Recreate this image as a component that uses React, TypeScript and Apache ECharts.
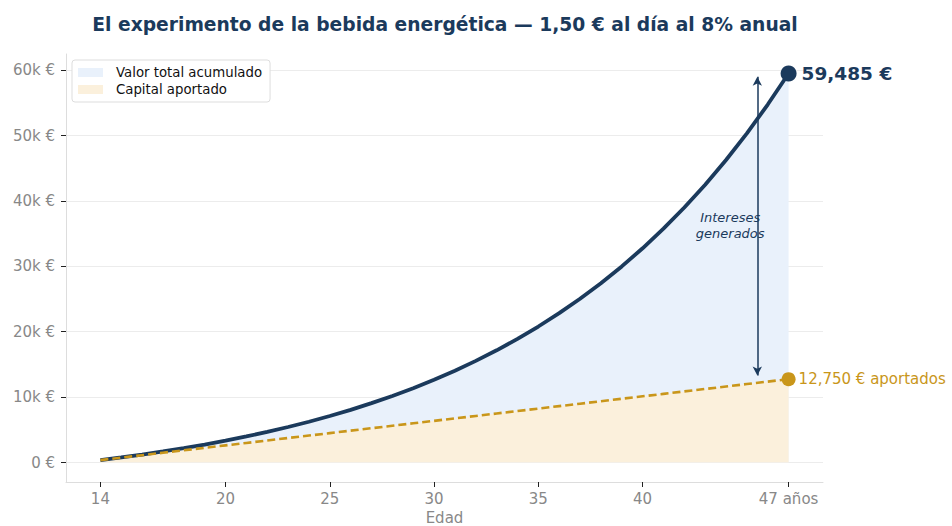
import React, { useEffect, useRef } from "react";
import * as echarts from "echarts";

const ages = [14, 15, 16, 17, 18, 19, 20, 21, 22, 23, 24, 25, 26, 27, 28, 29, 30, 31, 32, 33, 34, 35, 36, 37, 38, 39, 40, 41, 42, 43, 44, 45, 46, 47];
const totalValue = [375, 780, 1217, 1690, 2200, 2751, 3346, 3989, 4683, 5432, 6242, 7116, 8061, 9081, 10182, 11372, 12656, 14044, 15542, 17161, 18909, 20796, 22835, 25037, 27415, 29983, 32757, 35752, 38987, 42481, 46255, 50330, 54731, 59485];
const capital = [375, 750, 1125, 1500, 1875, 2250, 2625, 3000, 3375, 3750, 4125, 4500, 4875, 5250, 5625, 6000, 6375, 6750, 7125, 7500, 7875, 8250, 8625, 9000, 9375, 9750, 10125, 10500, 10875, 11250, 11625, 12000, 12375, 12750];
const xTicks = [14, 20, 25, 30, 35, 40, 47];
const yTicks = [0, 10000, 20000, 30000, 40000, 50000, 60000];

const NAVY = "#1b3a5c";
const GOLD = "#c9961a";
const BLUE_FILL = "#e9f1fb";
const GOLD_FILL = "#fbf0dc";
const FONT = "DejaVu Sans";

export default function App() {
  const ref = useRef<HTMLDivElement>(null);
  useEffect(() => {
    if (!ref.current) return;
    const chart = echarts.init(ref.current, null, { renderer: "svg" });
    const totalPts = ages.map((a, i) => [a, totalValue[i]]);
    const capPts = ages.map((a, i) => [a, capital[i]]);
    const n = ages.length - 1;
    const fmt = (v: number) => v.toLocaleString("en-US");
    chart.setOption({
      animation: false,
      textStyle: { fontFamily: FONT },
      title: {
        text: "El experimento de la bebida energética — 1,50 € al día al 8% anual",
        left: 440,
        top: 10,
        textAlign: "center",
        textStyle: { fontSize: 18.7, fontWeight: "bold", color: NAVY, fontFamily: FONT },
      },
      legend: {
        left: 72,
        top: 60,
        orient: "vertical",
        icon: "rect",
        itemWidth: 25,
        itemHeight: 9,
        itemGap: 4,
        padding: [6, 8, 6, 6],
        backgroundColor: "#ffffff",
        borderColor: "#dddddd",
        borderWidth: 1,
        borderRadius: 3,
        textStyle: { fontSize: 13.3, color: "#111", fontFamily: FONT, padding: [0, 0, 0, 8] },
        data: [
          { name: "Valor total acumulado", itemStyle: { color: BLUE_FILL }, lineStyle: { width: 0 } },
          { name: "Capital aportado", itemStyle: { color: GOLD_FILL }, lineStyle: { width: 0 } },
        ],
      },
      grid: { left: 66, right: 129, top: 54, bottom: 44, containLabel: false, outerBoundsMode: "none" },
      xAxis: {
        type: "value",
        min: 12.35,
        max: 48.65,
        name: "Edad",
        nameLocation: "middle",
        nameGap: 28,
        nameTextStyle: { color: "#888", fontSize: 15, fontFamily: FONT },
        axisLine: { onZero: false, lineStyle: { color: "#dddddd", width: 1 } },
        axisTick: { show: true, customValues: xTicks, length: 5, lineStyle: { color: "#222" } },
        axisLabel: {
          customValues: xTicks,
          color: "#888",
          fontSize: 15,
          fontFamily: FONT,
          margin: 9,
          formatter: (v: number) => (v === 47 ? "47 años" : String(v)),
        },
        splitLine: { show: false },
      },
      yAxis: {
        type: "value",
        min: -2974,
        max: 62460,
        axisLine: { show: true, onZero: false, lineStyle: { color: "#dddddd", width: 1 } },
        axisTick: { show: true, customValues: yTicks, length: 5, lineStyle: { color: "#222" } },
        axisLabel: {
          customValues: yTicks,
          color: "#888",
          fontSize: 15,
          fontFamily: FONT,
          margin: 11,
          formatter: (v: number) => (v === 0 ? "0 €" : v / 1000 + "k €"),
        },
        splitLine: { show: true, lineStyle: { color: "#ececec", width: 1 } },
      },
      series: [
        {
          name: "Valor total acumulado",
          type: "line",
          data: totalPts,
          showSymbol: false,
          symbol: "none",
          color: BLUE_FILL,
          lineStyle: { width: 0 },
          areaStyle: { color: BLUE_FILL, opacity: 1 },
          z: 1,
        },
        {
          name: "Capital aportado",
          type: "line",
          data: capPts,
          showSymbol: false,
          symbol: "none",
          color: GOLD_FILL,
          lineStyle: { width: 0 },
          areaStyle: { color: GOLD_FILL, opacity: 1 },
          z: 2,
        },
        {
          name: "totalLine",
          type: "line",
          data: totalPts,
          showSymbol: false,
          symbol: "none",
          lineStyle: { color: NAVY, width: 3.8 },
          z: 3,
          markLine: {
            silent: true,
            symbol: ["arrow", "arrow"],
            symbolSize: [7, 9],
            label: { show: false },
            lineStyle: { color: NAVY, width: 1.5, type: "solid" },
            data: [[{ coord: [45.5, 13300] }, { coord: [45.5, 59000] }]],
          },
          markPoint: {
            silent: true,
            symbol: "circle",
            symbolSize: 0,
            data: [
              {
                coord: [44.2, 36300],
                label: {
                  show: true,
                  position: "inside",
                  formatter: "Intereses\ngenerados",
                  color: NAVY,
                  fontStyle: "italic",
                  fontSize: 13,
                  lineHeight: 16,
                  fontFamily: FONT,
                },
              },
            ],
          },
        },
        {
          name: "capLine",
          type: "line",
          data: capPts,
          showSymbol: false,
          symbol: "none",
          lineStyle: { color: GOLD, width: 2.6, type: [8, 4] },
          z: 4,
        },
        {
          name: "endTotal",
          type: "scatter",
          data: [[ages[n], totalValue[n]]],
          symbolSize: 16,
          itemStyle: { color: NAVY, opacity: 1 },
          z: 5,
          label: {
            show: true,
            position: "right",
            distance: 5,
            formatter: () => fmt(totalValue[n]) + " €",
            color: NAVY,
            opacity: 1,
            fontSize: 18.5,
            fontWeight: "bold",
            fontFamily: FONT,
          },
        },
        {
          name: "endCap",
          type: "scatter",
          data: [[ages[n], capital[n]]],
          symbolSize: 14,
          itemStyle: { color: GOLD, opacity: 1 },
          z: 5,
          label: {
            show: true,
            position: "right",
            distance: 3,
            formatter: () => fmt(capital[n]) + " € aportados",
            color: GOLD,
            opacity: 1,
            fontSize: 15,
            fontFamily: FONT,
          },
        },
      ],
    });
    return () => chart.dispose();
  }, []);
  return <div ref={ref} style={{ width: 952, height: 526, position: "absolute", left: 0, top: 0 }} />;
}
